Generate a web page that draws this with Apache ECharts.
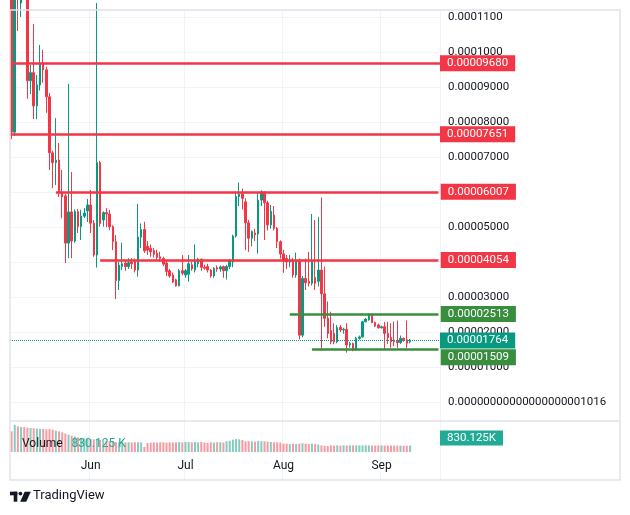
<!DOCTYPE html>
<html><head><meta charset="utf-8">
<script src="https://cdn.jsdelivr.net/npm/echarts@6/dist/echarts.min.js"></script>
<style>html,body{margin:0;padding:0;background:#fff}#c{width:630px;height:515px}</style>
</head><body><div id="c"></div>
<script>
// ---------- DATA (prices in units of 1e-5) ----------
const startDate = '2024-05-07';
const totalDays = 136; // trading days shown incl. empty right margin
const monthTickDates = ['2024-06-01', '2024-07-01', '2024-08-01', '2024-09-01'];
const monthTickLabels = ['Jun', 'Jul', 'Aug', 'Sep'];
const priceTicks = [0, 1, 2, 3, 4, 5, 6, 7, 8, 9, 10, 11];
const zeroTickLabel = '0.' + '0'.repeat(19) + '1016';

// daily candles: [open, high, low, close]
const candles = [
 [11.5,11.8,7.51,7.71],[7.71,12.2,7.6,11.6],[12.5,13.0,10.6,11.8],[11.4,12.5,11.0,11.9],[12.2,12.6,11.25,11.8],
 [11.8,12.0,8.66,9.18],[9.18,9.63,8.8,9.41],[9.41,10.8,8.08,8.46],[8.46,9.34,8.08,9.06],[9.06,10.2,8.9,9.69],
 [9.69,10.06,9.12,9.49],[9.49,9.58,8.26,8.72],[8.72,8.83,6.63,7.12],[7.12,7.18,6.11,6.84],[6.84,8.11,6.2,6.91],
 [6.91,7.4,5.86,5.97],[5.97,6.63,5.25,5.86],[5.89,5.95,3.97,4.54],[4.54,9.09,4.11,5.43],[5.43,6.57,4.11,4.6],
 [4.6,5.5,4.55,5.44],[5.44,5.51,4.83,5.01],[5.01,5.49,4.63,5.31],[5.31,5.54,5.26,5.4],[5.46,5.8,5.14,5.63],
 [5.63,6.06,4.83,5.11],[5.11,5.2,4.15,4.2],[4.2,11.4,3.84,6.84],[6.84,6.89,5.01,5.1],[5.2,5.45,5.01,5.41],
 [5.41,5.54,5.0,5.37],[5.37,5.49,4.91,5.01],[5.01,5.05,4.34,4.58],[4.58,4.77,2.94,3.47],[3.47,4.0,3.2,3.91],
 [3.87,4.55,3.77,3.95],[3.97,4.05,3.75,3.87],[3.87,4.11,3.8,3.98],[4.0,4.11,3.8,3.95],[4.04,4.1,3.7,3.77],
 [3.77,5.66,3.58,4.71],[4.71,5.1,4.4,4.93],[4.93,5.15,4.26,4.32],[4.45,4.6,4.2,4.34],[4.39,4.5,4.15,4.29],
 [4.33,4.4,4.13,4.22],[4.25,4.35,4.05,4.13],[4.15,4.29,4.01,4.1],[4.1,4.15,3.88,3.94],[3.97,4.05,3.6,3.73],
 [3.75,3.8,3.55,3.6],[3.63,3.7,3.4,3.43],[3.49,3.52,3.3,3.32],[3.32,3.8,3.3,3.75],[3.75,4.2,3.62,3.68],
 [3.63,3.8,3.55,3.75],[3.65,4.2,3.44,3.95],[3.92,4.0,3.75,3.8],[3.77,4.5,3.7,4.03],[3.95,4.12,3.85,4.08],
 [4.08,4.1,3.75,3.85],[3.85,3.92,3.78,3.82],[3.87,3.95,3.7,3.77],[3.77,3.8,3.55,3.6],[3.6,3.85,3.55,3.82],
 [3.84,3.9,3.72,3.8],[3.8,3.9,3.72,3.86],[3.87,3.9,3.55,3.75],[3.75,3.92,3.5,3.87],[3.87,4.08,3.8,4.04],
 [4.0,4.78,3.85,4.74],[4.74,6.01,4.7,5.87],[5.87,6.27,5.6,5.94],[5.94,6.1,5.5,5.82],[5.72,5.82,4.34,5.12],
 [5.12,5.2,4.29,4.68],[4.68,4.9,4.45,4.87],[4.83,4.95,4.6,4.78],[4.8,6.0,4.24,5.77],[5.77,6.05,5.6,6.0],
 [6.0,6.02,4.63,5.69],[5.69,5.75,4.9,5.06],[5.06,5.63,4.95,5.45],[5.34,5.6,4.9,4.96],[4.96,5.0,4.4,4.58],
 [4.58,4.62,4.1,4.23],[4.23,4.35,3.69,4.04],[4.1,4.2,3.8,4.0],[4.0,4.2,3.85,4.06],[4.04,4.12,3.55,3.63],
 [3.63,4.27,3.55,4.04],[4.04,4.1,1.79,1.91],[1.91,3.6,1.85,3.53],[3.53,4.1,3.2,3.41],[3.45,4.29,3.3,3.39],
 [3.39,5.37,3.33,4.04],[3.56,5.2,3.2,3.39],[3.45,5.29,3.3,3.77],[3.77,5.84,1.49,3.09],[3.09,3.87,2.15,2.39],
 [2.39,2.87,1.82,1.96],[2.04,2.58,1.65,1.72],[1.96,2.25,1.65,1.72],[1.72,2.2,1.68,2.13],[2.13,2.2,2.0,2.06],
 [2.06,2.12,1.95,2.08],[2.08,2.25,1.41,1.63],[1.63,1.72,1.55,1.67],[1.67,1.7,1.45,1.49],[1.49,1.86,1.47,1.82],
 [1.82,1.9,1.78,1.86],[1.86,2.32,1.84,2.29],[2.29,2.4,2.28,2.37],[2.35,2.53,2.32,2.49],[2.49,2.52,2.25,2.27],
 [2.27,2.3,2.14,2.17],[2.2,2.24,2.1,2.12],[2.12,2.18,2.1,2.15],[2.15,2.29,1.5,1.96],[1.96,2.29,1.66,1.84],
 [1.84,2.25,1.55,1.72],[1.77,2.3,1.6,1.72],[1.75,2.33,1.55,1.7],[1.7,1.9,1.66,1.82],[1.82,1.84,1.72,1.78],
 [1.78,2.33,1.55,1.68],[1.72,1.8,1.68,1.764]
];

// daily volume, thousands
const volumes = [
 2650,3480,3290,3200,3200,3110,3070,3030,2990,2940,
 2940,2900,2940,2860,2730,2650,2520,2350,2220,2090,
 2000,1880,1790,1750,1700,1660,1620,1580,1540,1450,
 1400,1360,1320,1280,1240,1240,1230,1240,1220,1240,
 1250,1240,640,1150,1200,1240,1200,1240,1240,1200,
 1240,1220,1240,1280,1240,1280,1280,1240,1280,1240,
 1280,1200,1150,1240,1200,1240,1240,1200,1370,1450,
 1580,1660,1620,1540,1370,1360,1370,1320,1400,1370,
 1370,1320,1280,1240,1240,1200,1070,1070,1020,1070,
 1020,1070,1110,1070,1030,1070,1020,960,850,800,
 770,850,830,850,810,850,830,850,850,850,
 850,850,850,850,830,830,830,850,830,810,
 830,810,830,810,810,810,830.125
];

// horizontal levels
const levelValues = [9.68, 7.651, 6.007, 4.054, 2.513, 1.509];
const levelStarts = [null, null, '2024-05-21', '2024-06-04', '2024-08-03', '2024-08-10'];
const levelColors = ['#F23645', '#F23645', '#F23645', '#F23645', '#388E3C', '#388E3C'];
const lastPrice = 1.764;

// ---------- BUILD ----------
const dates = [];
{
  const d0 = new Date(startDate + 'T00:00:00Z');
  for (let i = 0; i < totalDays; i++) {
    const d = new Date(d0.getTime() + i * 86400000);
    dates.push(d.toISOString().slice(0, 10));
  }
}
const lastDate = dates[dates.length - 1];
const UP = '#089981', DOWN = '#F23645';
const FONT = 'Roboto';
const fmtPrice = v => v === 0 ? zeroTickLabel : (v >= 10 ? (v / 1e5).toFixed(7) : (v / 1e5).toFixed(8));

const candleData = candles.map(c => [c[0], c[3], c[2], c[1]]);
const volData = volumes.map((v, i) => ({
  value: v,
  itemStyle: { color: candles[i][3] >= candles[i][0] ? 'rgba(8,153,129,0.5)' : 'rgba(242,54,69,0.5)' }
}));
const isMonthTick = (idx, val) => monthTickDates.indexOf(val) >= 0;

const lblBase = { show: true, position: 'end', color: '#fff', fontFamily: FONT, fontSize: 11.5,
  padding: [2, 7, 2, 7], lineHeight: 12 };

const markData = levelValues.map((v, k) => {
  const style = { lineStyle: { color: levelColors[k], width: 2.5, type: 'solid' },
    label: Object.assign({}, lblBase, { backgroundColor: levelColors[k], formatter: fmtPrice(v),
      distance: levelStarts[k] ? 2.3 : 0,
      verticalAlign: v === 1.509 ? 'top' : 'middle' }) };
  if (!levelStarts[k]) return Object.assign({ yAxis: v }, style);
  return [Object.assign({ coord: [levelStarts[k], v] }, style), { coord: [lastDate, v] }];
});
markData.push({ yAxis: lastPrice, lineStyle: { color: UP, width: 1, type: 'dotted' },
  label: Object.assign({}, lblBase, { backgroundColor: UP, formatter: fmtPrice(lastPrice), distance: 0 }) });

const lastVol = volumes[volumes.length - 1];
const lastVolText = lastVol.toFixed(3);

const option = {
  animation: false,
  backgroundColor: '#ffffff',
  textStyle: { fontFamily: FONT },
  title: {
    left: 17, top: 430,
    text: '{a|Volume}  {b|' + lastVolText + ' K}',
    textStyle: { fontWeight: 'normal', rich: {
      a: { fontFamily: FONT, fontSize: 12, fontWeight: 'normal', color: '#131722' },
      b: { fontFamily: FONT, fontSize: 12, fontWeight: 'normal', color: '#22ab94' }
    } }
  },
  grid: [
    { left: 10, right: 190, top: 10, height: 392 },
    { left: 10, right: 190, top: 422, height: 30 },
    { left: 10, right: 190, top: 10, bottom: 35 }
  ],
  xAxis: [
    { type: 'category', gridIndex: 0, data: dates, show: false },
    { type: 'category', gridIndex: 1, data: dates, show: false },
    { type: 'category', gridIndex: 2, data: dates,
      axisLine: { show: false }, axisTick: { show: false },
      axisLabel: { inside: true, margin: 8, interval: isMonthTick, color: '#131722', fontSize: 12, fontFamily: FONT,
        formatter: v => monthTickLabels[monthTickDates.indexOf(v)] },
      splitLine: { show: true, interval: isMonthTick, lineStyle: { color: '#f0f3fa', width: 1 } } }
  ],
  yAxis: [
    { type: 'value', gridIndex: 0, position: 'right', min: 0, max: 11.2, interval: 1,
      axisLine: { show: false }, axisTick: { show: false },
      axisLabel: { margin: 8, color: '#131722', fontSize: 11.5, fontFamily: FONT,
        formatter: v => priceTicks.some(t => Math.abs(t - v) < 1e-6) ? fmtPrice(Math.round(v)) : '' },
      splitLine: { show: true, lineStyle: { color: '#f0f3fa', width: 1 } } },
    { type: 'value', gridIndex: 1, min: 0, max: 3840, show: false },
    { type: 'value', gridIndex: 2, show: false }
  ],
  graphic: [
    { type: 'rect', shape: { x: 10, y: 10, width: 610, height: 470 }, style: { fill: 'none', stroke: '#e0e3eb', lineWidth: 1.5 }, z: 100, silent: true },
    { type: 'line', shape: { x1: 10, y1: 421, x2: 620, y2: 421 }, style: { stroke: '#e0e3eb', lineWidth: 1.5 }, z: 100, silent: true },
    { type: 'rect', shape: { x: 10, y: 491.7, width: 7.3, height: 3.6 }, style: { fill: '#131722' } },
    { type: 'rect', shape: { x: 13.7, y: 491.7, width: 3.6, height: 10 }, style: { fill: '#131722' } },
    { type: 'circle', shape: { cx: 20.4, cy: 493.6, r: 1.9 }, style: { fill: '#131722' } },
    { type: 'polygon', shape: { points: [[24.6, 491.7], [30.8, 491.7], [26.2, 501.7], [20.2, 501.7]] }, style: { fill: '#131722' } },
    { type: 'text', left: 33, top: 489, style: { text: 'TradingView', fill: '#131722', font: '13px Roboto' } }
  ],
  series: [
    { type: 'candlestick', xAxisIndex: 0, yAxisIndex: 0, data: candleData, barWidth: 2,
      itemStyle: { color: UP, color0: DOWN, borderColor: UP, borderColor0: DOWN, borderWidth: 1 },
      markLine: { symbol: ['none', 'none'], silent: true, animation: false, data: markData } },
    { type: 'bar', xAxisIndex: 1, yAxisIndex: 1, data: volData, barWidth: 2,
      markLine: { symbol: ['none', 'none'], silent: true, animation: false,
        data: [{ yAxis: lastVol, lineStyle: { color: 'rgba(0,0,0,0)', width: 1 },
          label: Object.assign({}, lblBase, { backgroundColor: '#22ab94', distance: 0, verticalAlign: 'bottom',
            padding: [2, 7, 1, 7], formatter: lastVolText + 'K' }) }] } }
  ]
};
const chart = echarts.init(document.getElementById('c'));
chart.setOption(option);
</script></body></html>
